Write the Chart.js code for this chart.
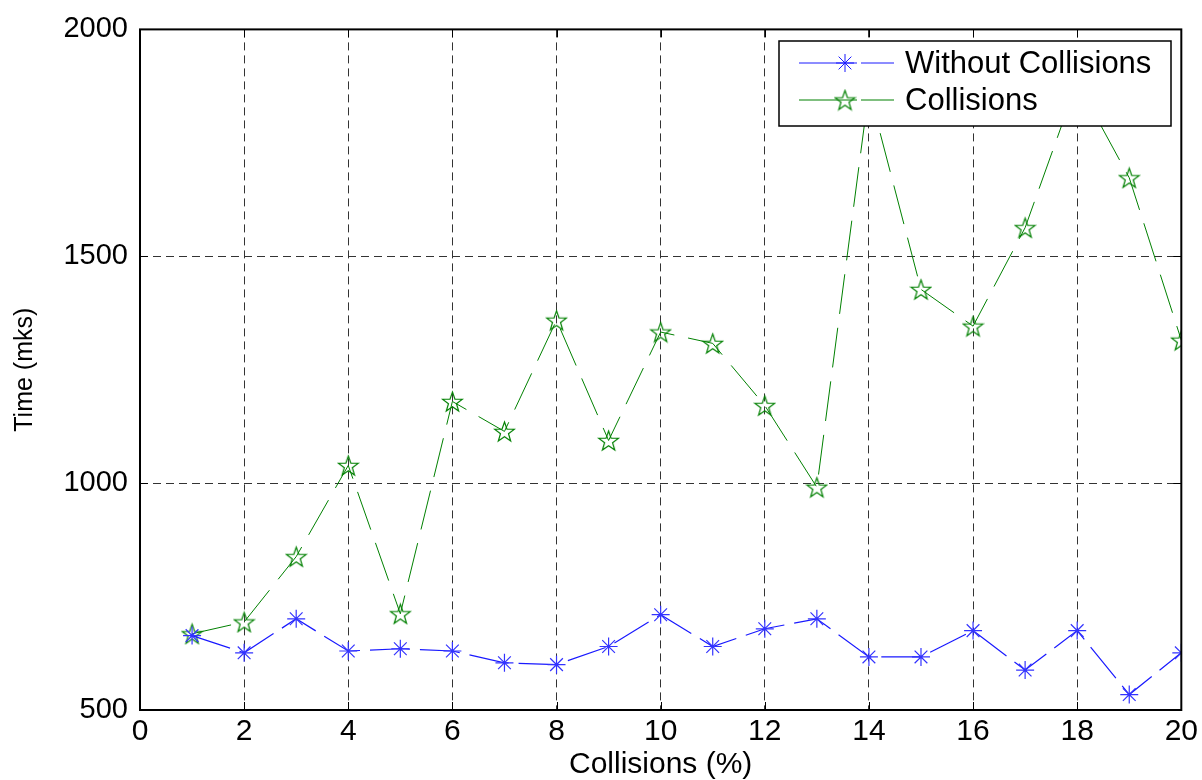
<!DOCTYPE html>
<html lang="en">
  <head>
    <meta charset="utf-8" />
    <title>Collisions vs time</title>
    <style>
      body { margin: 0; background: #fff; }
      #myChart { display: block; }
    </style>
  </head>
  <body>
    <canvas id="myChart" width="1202" height="780"></canvas>
    <script src="https://cdn.jsdelivr.net/npm/chart.js"></script>
    <script>
      const collisionPct = [1, 2, 3, 4, 5, 6, 7, 8, 9, 10, 11, 12, 13, 14, 15, 16, 17, 18, 19, 20];
      const withoutCollisions = [664, 626, 701, 630, 635, 630, 604, 600, 640, 710, 640, 679, 701, 617, 617, 675, 588, 675, 534, 626];
      const withCollisions = [668, 694, 838, 1039, 712, 1180, 1114, 1359, 1094, 1333, 1308, 1171, 991, 1866, 1427, 1346, 1563, 1884, 1673, 1315];
      const xTicks = [0, 2, 4, 6, 8, 10, 12, 14, 16, 18, 20];
      const yTicks = [500, 1000, 1500, 2000];

      const mainFont = "'Liberation Sans', Arial, sans-serif";

      // pentagram marker (matlab 'p')
      function makePentagram(size, color) {
        const c = document.createElement("canvas");
        c.width = size;
        c.height = size;
        const ctx = c.getContext("2d");
        const cx = size / 2, cy = size / 2 + 1;
        const R = size / 2 - 1, r = R * 0.4;
        ctx.beginPath();
        for (let i = 0; i < 10; i++) {
          const ang = -Math.PI / 2 + (i * Math.PI) / 5;
          const rad = i % 2 === 0 ? R : r;
          const px = cx + rad * Math.cos(ang);
          const py = cy + rad * Math.sin(ang);
          if (i === 0) ctx.moveTo(px, py);
          else ctx.lineTo(px, py);
        }
        ctx.closePath();
        ctx.strokeStyle = color;
        ctx.lineWidth = 1.2;
        ctx.stroke();
        return c;
      }
      const greenStar = makePentagram(23, "#008000");

      const toPoints = (ys) => collisionPct.map((x, i) => ({ x: x, y: ys[i] }));

      const data = {
        datasets: [
          {
            label: "Without Collisions",
            data: toPoints(withoutCollisions),
            borderColor: "#1a1aff",
            backgroundColor: "#1a1aff",
            borderWidth: 1.2,
            borderDash: [40, 10],
            pointStyle: "star",
            pointRadius: 9,
            pointBorderWidth: 1.2,
            pointBorderColor: "#3333ff",
            tension: 0,
          },
          {
            label: "Collisions",
            data: toPoints(withCollisions),
            borderColor: "#008000",
            backgroundColor: "#008000",
            borderWidth: 1,
            borderDash: [40, 14],
            pointStyle: greenStar,
            tension: 0,
          },
        ],
      };

      // box, inward ticks and matlab style legend
      const matlabBox = {
        id: "matlabBox",
        afterDatasetsDraw(chart) {
          const ctx = chart.ctx;
          const a = chart.chartArea;
          const xs = chart.scales.x, ys = chart.scales.y;
          ctx.save();
          ctx.setLineDash([]);
          ctx.strokeStyle = "#000";
          ctx.lineWidth = 1;
          xTicks.forEach((t) => {
            const px = Math.round(xs.getPixelForValue(t)) + 0.5;
            ctx.beginPath();
            ctx.moveTo(px, a.bottom);
            ctx.lineTo(px, a.bottom - 8);
            ctx.moveTo(px, a.top);
            ctx.lineTo(px, a.top + 8);
            ctx.stroke();
          });
          yTicks.forEach((t) => {
            const py = Math.round(ys.getPixelForValue(t)) + 0.5;
            ctx.beginPath();
            ctx.moveTo(a.left, py);
            ctx.lineTo(a.left + 8, py);
            ctx.moveTo(a.right, py);
            ctx.lineTo(a.right - 8, py);
            ctx.stroke();
          });
          ctx.lineWidth = 2;
          ctx.strokeRect(a.left, a.top, a.right - a.left, a.bottom - a.top);

          // legend
          const lx = 779, ly = 41, lw = 392, lh = 85;
          ctx.fillStyle = "#fff";
          ctx.fillRect(lx, ly, lw, lh);
          ctx.lineWidth = 1.5;
          ctx.strokeRect(lx, ly, lw, lh);
          const rows = [63, 100];
          chart.data.datasets.forEach((ds, i) => {
            const y = rows[i];
            ctx.strokeStyle = ds.borderColor;
            ctx.lineWidth = 1;
            ctx.beginPath();
            ctx.moveTo(799, y);
            ctx.lineTo(857, y);
            ctx.moveTo(861, y);
            ctx.lineTo(894, y);
            ctx.stroke();
            if (i === 0) {
              ctx.strokeStyle = "#1a1aff";
              Chart.helpers.drawPoint(ctx, { pointStyle: "star", radius: 9, borderWidth: 1.2 }, 845, y);
            } else {
              ctx.drawImage(greenStar, 845 - 11.5, y - 11.5);
            }
            ctx.fillStyle = "#000";
            ctx.font = "31px " + mainFont;
            ctx.textBaseline = "middle";
            ctx.textAlign = "left";
            ctx.fillText(ds.label, 905, y + 1);
          });
          ctx.restore();
        },
      };

      const config = {
        type: "line",
        data,
        plugins: [matlabBox],
        options: {
          responsive: false,
          animation: false,
          layout: { padding: { top: 27, right: 19, left: 0, bottom: 0 } },
          plugins: {
            legend: { display: false },
            tooltip: { enabled: false },
          },
          scales: {
            x: {
              type: "linear",
              min: 0,
              max: 20,
              afterBuildTicks: (scale) => {
                scale.ticks = xTicks.map((v) => ({ value: v }));
              },
              afterFit: (scale) => {
                scale.height = 70;
              },
              grid: {
                color: "#333",
                lineWidth: 1,
                drawTicks: false,
              },
              border: { display: false, dash: [8, 5] },
              ticks: {
                color: "#000",
                padding: 4,
                maxRotation: 0,
                callback: (v) => String(v),
                font: { family: mainFont, size: 30 },
              },
              title: {
                display: true,
                text: "Collisions (%)",
                color: "#000",
                padding: { top: 0, bottom: 0 },
                font: { family: mainFont, size: 30, lineHeight: 1 },
              },
            },
            y: {
              type: "linear",
              min: 500,
              max: 2000,
              afterBuildTicks: (scale) => {
                scale.ticks = yTicks.map((v) => ({ value: v }));
              },
              afterFit: (scale) => {
                scale.width = 140;
              },
              grid: {
                color: "#333",
                lineWidth: 1,
                drawTicks: false,
              },
              border: { display: false, dash: [8, 5] },
              ticks: {
                color: "#000",
                padding: 12,
                callback: (v) => String(v),
                font: { family: mainFont, size: 29 },
              },
              title: {
                display: true,
                text: "Time (mks)",
                color: "#000",
                padding: { top: 10, bottom: 0 },
                font: { family: mainFont, size: 25, lineHeight: 1.2 },
              },
            },
          },
        },
      };
      const myChart = new Chart(document.getElementById("myChart"), config);
    </script>
  </body>
</html>
